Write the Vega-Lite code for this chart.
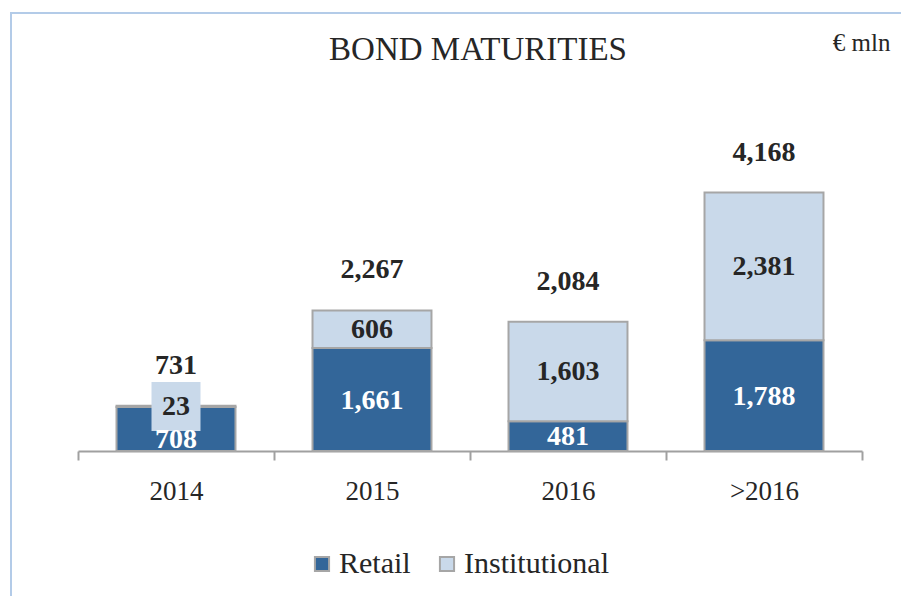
{
  "$schema": "https://vega.github.io/schema/vega-lite/v6.json",
  "width": 900,
  "height": 600,
  "autosize": {"type": "none"},
  "padding": {"left": 11, "top": 13, "right": -10, "bottom": -17},
  "background": "white",
  "config": {"view": {"stroke": "#b3cbe8", "strokeWidth": 2}, "font": "Liberation Serif"},
  "title": {
    "text": "BOND MATURITIES",
    "font": "Liberation Serif",
    "fontSize": 33,
    "fontWeight": "normal",
    "color": "#262626",
    "anchor": "middle",
    "frame": "group",
    "dx": 17,
    "dy": 64,
    "offset": 10
  },
  "datasets": {
    "segments": [
      {"year": "2014", "series": "Retail", "value": 708},
      {"year": "2014", "series": "Institutional", "value": 23},
      {"year": "2015", "series": "Retail", "value": 1661},
      {"year": "2015", "series": "Institutional", "value": 606},
      {"year": "2016", "series": "Retail", "value": 481},
      {"year": "2016", "series": "Institutional", "value": 1603},
      {"year": ">2016", "series": "Retail", "value": 1788},
      {"year": ">2016", "series": "Institutional", "value": 2381}
    ],
    "totals": [
      {"year": "2014", "total": 731},
      {"year": "2015", "total": 2267},
      {"year": "2016", "total": 2084},
      {"year": ">2016", "total": 4168}
    ]
  },
  "data": {"name": "segments"},
  "encoding": {
    "x": {
      "field": "year",
      "type": "nominal",
      "sort": ["2014", "2015", "2016", ">2016"],
      "scale": {"paddingInner": 0, "paddingOuter": 0, "range": [67, 851]},
      "axis": {
        "title": null,
        "offset": -162,
        "labelAngle": 0,
        "labelFont": "Liberation Serif",
        "labelFontSize": 27,
        "labelColor": "#262626",
        "labelPadding": 18,
        "domainColor": "#a0a0a0",
        "domainWidth": 2,
        "tickColor": "#a0a0a0",
        "tickWidth": 2,
        "tickSize": 9,
        "tickBand": "extent"
      }
    }
  },
  "layer": [
    {
      "mark": {"type": "bar", "stroke": "#a6a6a6", "strokeWidth": 2, "width": {"band": 0.607}},
      "encoding": {
        "y": {
          "field": "value",
          "type": "quantitative",
          "stack": "zero",
          "scale": {"domain": [0, 5000], "nice": false, "range": [438, 128]},
          "axis": {
            "orient": "right",
            "domain": false,
            "ticks": false,
            "labels": false,
            "grid": false,
            "title": "€ mln",
            "titleAngle": 0,
            "titleAlign": "right",
            "titleBaseline": "middle",
            "titleX": -21,
            "titleY": 29,
            "titleFont": "Liberation Serif",
            "titleFontSize": 25,
            "titleFontWeight": "normal",
            "titleColor": "#262626"
          }
        },
        "color": {
          "field": "series",
          "type": "nominal",
          "scale": {"domain": ["Retail", "Institutional"], "range": ["#336699", "#c9d9ea"]},
          "legend": {
            "orient": "none",
            "legendX": 296,
            "legendY": 536,
            "direction": "horizontal",
            "title": null,
            "labelFont": "Liberation Serif",
            "labelFontSize": 30,
            "labelColor": "#262626",
            "symbolType": "square",
            "symbolSize": 200,
            "symbolStrokeColor": "#a6a6a6",
            "symbolStrokeWidth": 2,
            "symbolOpacity": 1,
            "columnPadding": 21,
            "labelOffset": 2
          }
        },
        "order": {"field": "series", "sort": "descending"}
      }
    },
    {
      "mark": {"type": "point", "shape": "square", "filled": true, "color": "#c9d9ea", "size": 2400},
      "encoding": {
        "y": {"field": "value", "type": "quantitative", "stack": "zero", "bandPosition": 0.5},
        "detail": {"field": "series"},
        "order": {"field": "series", "sort": "descending"},
        "opacity": {
          "condition": {"test": "datum.series === 'Institutional' && datum.value < 100", "value": 1},
          "value": 0
        }
      }
    },
    {
      "mark": {
        "type": "text",
        "font": "Liberation Serif",
        "fontSize": 28,
        "fontWeight": "bold",
        "baseline": "middle",
        "dy": {"expr": "datum.year === '2014' && datum.series === 'Retail' ? 11 : 1"}
      },
      "encoding": {
        "y": {"field": "value", "type": "quantitative", "stack": "zero", "bandPosition": 0.5},
        "detail": {"field": "series"},
        "order": {"field": "series", "sort": "descending"},
        "text": {"field": "value", "type": "quantitative", "format": ","},
        "color": {
          "condition": {"test": "datum.series === 'Retail'", "value": "white"},
          "value": "#262626"
        }
      }
    },
    {
      "data": {"name": "totals"},
      "mark": {"type": "text", "font": "Liberation Serif", "fontSize": 28, "fontWeight": "bold", "baseline": "middle", "dy": -40, "color": "#262626"},
      "encoding": {
        "y": {"field": "total", "type": "quantitative"},
        "text": {"field": "total", "type": "quantitative", "format": ","}
      }
    }
  ]
}
